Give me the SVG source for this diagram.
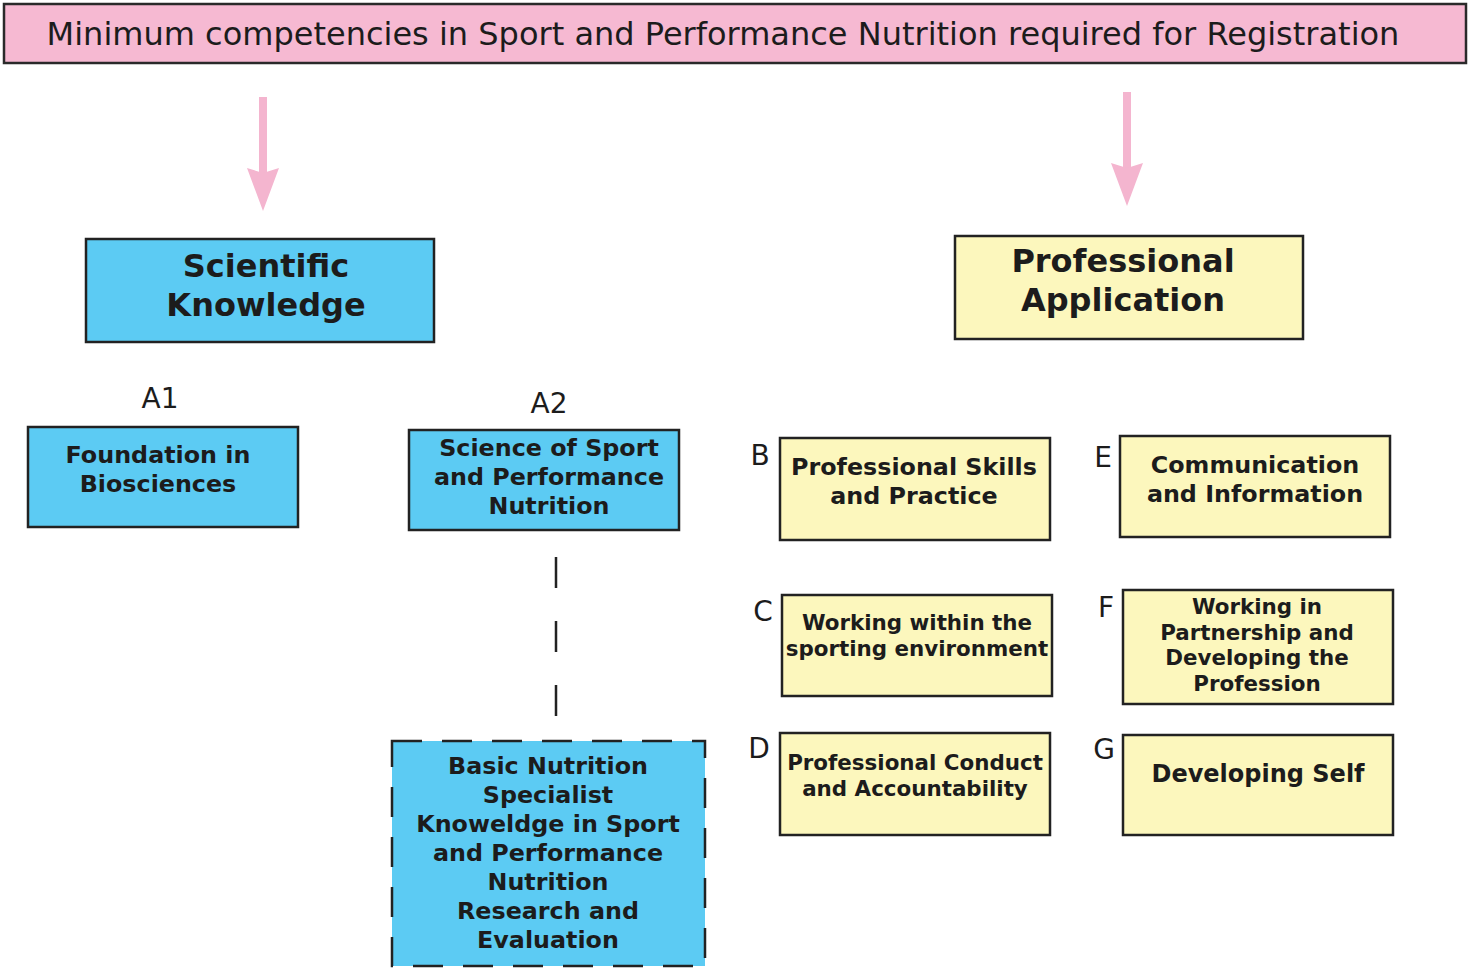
<svg xmlns="http://www.w3.org/2000/svg" width="1468" height="968" viewBox="0 0 1468 968">
  <style>
    .blue { fill: #5ccbf3; stroke: #222; stroke-width: 2.5; }
    .yellow { fill: #fcf7bd; stroke: #222; stroke-width: 2.5; }
    .dashed { stroke-dasharray: 30 20; }
    .t { font-family: "DejaVu Sans", Verdana, sans-serif; font-weight: bold; fill: #1c1c1c; text-anchor: middle; }
    .m { font-size: 23.8px; }
    .s { font-size: 21.4px; }
    .lbl { font-family: "DejaVu Sans", Verdana, sans-serif; fill: #1c1c1c; text-anchor: middle; }
    .arrow { stroke: #f4b5cf; stroke-width: 8; fill: none; }
    .head { fill: #f4b5cf; }
  </style>

  <g id="title">
    <rect x="4" y="4" width="1462" height="59" fill="#f6b9d2" stroke="#2a2a2a" stroke-width="2.5"/>
    <text class="lbl" x="723" y="45" font-size="32">Minimum competencies in Sport and Performance Nutrition required for Registration</text>
  </g>

  <g id="connectors">
    <line class="arrow" x1="263" y1="97" x2="263" y2="175"/>
    <polygon class="head" points="247,168 263,173 279,168 263,211"/>
    <line class="arrow" x1="1127" y1="92" x2="1127" y2="170"/>
    <polygon class="head" points="1111,163 1127,168 1143,163 1127,206"/>
    <line x1="556" y1="557" x2="556" y2="717" stroke="#222" stroke-width="2.5" stroke-dasharray="31 33"/>
  </g>

  <g id="scientific-knowledge">
    <rect class="blue" x="86" y="239" width="348" height="103"/>
    <text class="t" x="266" y="277" font-size="32">Scientific</text>
    <text class="t" x="266" y="316" font-size="32">Knowledge</text>
  </g>

  <g id="professional-application">
    <rect class="yellow" x="955" y="236" width="348" height="103"/>
    <text class="t" x="1123" y="272" font-size="32">Professional</text>
    <text class="t" x="1123" y="311" font-size="32">Application</text>
  </g>

  <g id="a1">
    <text class="lbl" x="160" y="408" font-size="28">A1</text>
    <rect class="blue" x="28" y="427" width="270" height="100"/>
    <text class="t m" x="158" y="463">Foundation in</text>
    <text class="t m" x="158" y="492">Biosciences</text>
  </g>

  <g id="a2">
    <text class="lbl" x="549" y="413" font-size="28">A2</text>
    <rect class="blue" x="409" y="430" width="270" height="100"/>
    <text class="t m" x="549" y="456">Science of Sport</text>
    <text class="t m" x="549" y="485">and Performance</text>
    <text class="t m" x="549" y="514">Nutrition</text>
  </g>

  <g id="basic-nutrition">
    <rect class="blue dashed" x="392" y="741" width="313" height="225"/>
    <text class="t m" x="548" y="774">Basic Nutrition</text>
    <text class="t m" x="548" y="803">Specialist</text>
    <text class="t m" x="548" y="832">Knoweldge in Sport</text>
    <text class="t m" x="548" y="861">and Performance</text>
    <text class="t m" x="548" y="890">Nutrition</text>
    <text class="t m" x="548" y="919">Research and</text>
    <text class="t m" x="548" y="948">Evaluation</text>
  </g>

  <g id="b">
    <text class="lbl" x="760" y="465" font-size="28">B</text>
    <rect class="yellow" x="780" y="438" width="270" height="102"/>
    <text class="t m" x="914" y="475">Professional Skills</text>
    <text class="t m" x="914" y="504">and Practice</text>
  </g>

  <g id="e">
    <text class="lbl" x="1103" y="467" font-size="28">E</text>
    <rect class="yellow" x="1120" y="436" width="270" height="101"/>
    <text class="t m" x="1255" y="473">Communication</text>
    <text class="t m" x="1255" y="502">and Information</text>
  </g>

  <g id="c">
    <text class="lbl" x="763" y="621" font-size="28">C</text>
    <rect class="yellow" x="782" y="595" width="270" height="101"/>
    <text class="t s" x="917" y="630">Working within the</text>
    <text class="t s" x="917" y="656">sporting environment</text>
  </g>

  <g id="f">
    <text class="lbl" x="1106" y="617" font-size="28">F</text>
    <rect class="yellow" x="1123" y="590" width="270" height="114"/>
    <text class="t s" x="1257" y="614">Working in</text>
    <text class="t s" x="1257" y="640">Partnership and</text>
    <text class="t s" x="1257" y="665">Developing the</text>
    <text class="t s" x="1257" y="691">Profession</text>
  </g>

  <g id="d">
    <text class="lbl" x="759" y="758" font-size="28">D</text>
    <rect class="yellow" x="780" y="733" width="270" height="102"/>
    <text class="t s" x="915" y="770">Professional Conduct</text>
    <text class="t s" x="915" y="796">and Accountability</text>
  </g>

  <g id="g">
    <text class="lbl" x="1104" y="759" font-size="28">G</text>
    <rect class="yellow" x="1123" y="735" width="270" height="100"/>
    <text class="t" x="1258" y="782" font-size="24">Developing Self</text>
  </g>
</svg>
